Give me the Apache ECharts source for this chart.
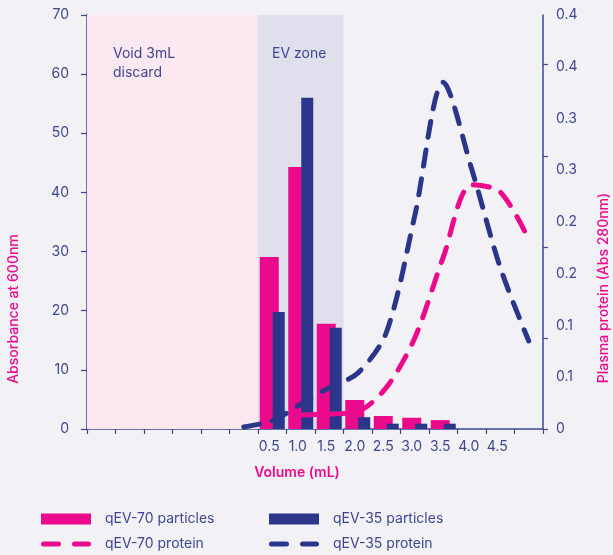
<!DOCTYPE html>
<html>
<head>
<meta charset="utf-8">
<script src="https://cdn.jsdelivr.net/npm/echarts@6/dist/echarts.min.js"></script>
<style>
html,body{margin:0;padding:0;background:#F2F1F6;}
#chart{width:613px;height:555px;}
</style>
</head>
<body>
<div id="chart"></div>
<script>
// ---- data ----
const categories = ['', '', '', '', '', '', '0.5', '1.0', '1.5', '2.0', '2.5', '3.0', '3.5', '4.0', '4.5', ''];
const qev70Particles = [null, null, null, null, null, null, 29.1, 44.3, 17.8, 4.9, 2.2, 1.9, 1.5, null, null, null];
const qev35Particles = [null, null, null, null, null, null, 19.8, 56.0, 17.1, 2.0, 0.9, 0.9, 0.9, null, null, null];
const qev70Protein = [null, null, null, null, null, null, null, 0.0135, 0.0145, 0.017, 0.040, 0.088, 0.166, 0.236, 0.229, 0.183];
const qev35Protein = [null, null, null, null, null, 0.002, 0.008, 0.024, 0.040, 0.054, 0.093, 0.206, 0.335, 0.251, 0.156, 0.085];
const rightTickLabels = ['0', '0.1', '0.1', '0.2', '0.2', '0.3', '0.3', '0.4', '0.4'];
const rightTickMarks = [0, 0.088, 0.176, 0.264, 0.352];
const zoneVoid = [0, 6];
const zoneEV = [6, 9];

const PINK = '#EC0A8C';
const NAVY = '#2B368A';
const TEXT = '#3D4790';
const FONT = 'Inter';

const DASH_ICON = 'path://M2.5,0 h15 a2.5,2.5 0 0 1 0,5 h-15 a2.5,2.5 0 0 1 0,-5 Z M33.5,0 h14 a2.5,2.5 0 0 1 0,5 h-14 a2.5,2.5 0 0 1 0,-5 Z';

const chart = echarts.init(document.getElementById('chart'), null, {renderer: 'canvas'});

const legendBase = {
  padding: 0,
  itemWidth: 50, itemHeight: 11,
  textStyle: {color: TEXT, fontSize: 14, fontFamily: FONT, padding: [0, 0, 0, 9]},
  selectedMode: false
};

chart.setOption({
  backgroundColor: '#F2F1F6',
  animation: false,
  textStyle: {fontFamily: FONT},
  grid: {left: 87, right: 70, top: 15, bottom: 126, containLabel: false},
  xAxis: [{
    type: 'category',
    data: categories,
    boundaryGap: true,
    axisLine: {show: true, lineStyle: {color: TEXT, width: 1.5}},
    axisTick: {show: true, interval: 0, length: 5, lineStyle: {color: TEXT, width: 1.2}},
    axisLabel: {interval: 0, color: TEXT, fontSize: 14, fontFamily: FONT, margin: 11, padding: [0, 6, 0, 0]},
    splitLine: {show: false}
  }, {
    type: 'value', min: 0, max: 16, show: false
  }],
  yAxis: [{
    type: 'value', position: 'left', min: 0, max: 70, interval: 10,
    axisLine: {show: true, lineStyle: {color: TEXT, width: 1.5}},
    axisTick: {show: true, length: 6, lineStyle: {color: TEXT, width: 1.2}},
    axisLabel: {color: TEXT, fontSize: 14, fontFamily: FONT, margin: 18},
    splitLine: {show: false}
  }, {
    type: 'value', position: 'right', min: 0, max: 0.4, interval: 0.05,
    axisLine: {show: true, lineStyle: {color: TEXT, width: 1.5}},
    axisTick: {show: true, length: 5, customValues: rightTickMarks, lineStyle: {color: TEXT, width: 1.2}},
    axisLabel: {color: TEXT, fontSize: 14, fontFamily: FONT, margin: 13,
      formatter: function (v, i) { return rightTickLabels[i]; }},
    splitLine: {show: false}
  }],
  legend: [
    Object.assign({}, legendBase, {data: ['qEV-70 particles'], left: 41, top: 512, icon: 'rect'}),
    Object.assign({}, legendBase, {data: ['qEV-35 particles'], left: 269, top: 512, icon: 'rect'}),
    Object.assign({}, legendBase, {data: ['qEV-70 protein'], left: 41, top: 537, icon: DASH_ICON, itemHeight: 5}),
    Object.assign({}, legendBase, {data: ['qEV-35 protein'], left: 269, top: 537, icon: DASH_ICON, itemHeight: 5})
  ],
  graphic: [
    {type: 'text', x: 14, y: 309, rotation: Math.PI / 2,
      style: {text: 'Absorbance at 600nm', fill: PINK, fontSize: 14, fontWeight: 500, fontFamily: FONT, align: 'center', verticalAlign: 'middle'}},
    {type: 'text', x: 604, y: 288, rotation: Math.PI / 2,
      style: {text: 'Plasma protein (Abs 280nm)', fill: PINK, fontSize: 14, fontWeight: 500, fontFamily: FONT, align: 'center', verticalAlign: 'middle'}},
    {type: 'text', x: 297, y: 473,
      style: {text: 'Volume (mL)', fill: PINK, fontSize: 14, fontWeight: 600, fontFamily: FONT, align: 'center', verticalAlign: 'middle'}}
  ],
  series: [{
    name: 'zones', type: 'line', xAxisIndex: 1, yAxisIndex: 0, data: [], z: 0, silent: true,
    markArea: {
      silent: true,
      data: [
        [{xAxis: zoneVoid[0], name: 'Void 3mL\ndiscard', itemStyle: {color: '#FCE8F1'},
          label: {offset: [21, 24]}},
         {xAxis: zoneVoid[1]}],
        [{xAxis: zoneEV[0], name: 'EV zone', itemStyle: {color: '#E0DFEC'},
          label: {offset: [9, 24]}},
         {xAxis: zoneEV[1]}]
      ],
      label: {show: true, position: 'insideTopLeft', color: TEXT, fontSize: 14, lineHeight: 19, fontFamily: FONT}
    }
  }, {
    name: 'qEV-70 particles', type: 'bar', data: qev70Particles,
    barWidth: 19, barGap: '-31.6%', itemStyle: {color: PINK}, z: 2
  }, {
    name: 'qEV-35 particles', type: 'bar', data: qev35Particles,
    barWidth: 12, barGap: '-31.6%', itemStyle: {color: NAVY}, z: 3
  }, {
    name: 'qEV-70 protein', type: 'line', yAxisIndex: 1, data: qev70Protein,
    smooth: 0.3, symbol: 'none', showSymbol: false, z: 5,
    itemStyle: {color: PINK},
    lineStyle: {color: PINK, width: 5, type: [16, 13], cap: 'round'}
  }, {
    name: 'qEV-35 protein', type: 'line', yAxisIndex: 1, data: qev35Protein,
    smooth: 0.3, symbol: 'none', showSymbol: false, z: 6,
    itemStyle: {color: NAVY},
    lineStyle: {color: NAVY, width: 5, type: [16, 13], cap: 'round'}
  }]
});
</script>
</body>
</html>
